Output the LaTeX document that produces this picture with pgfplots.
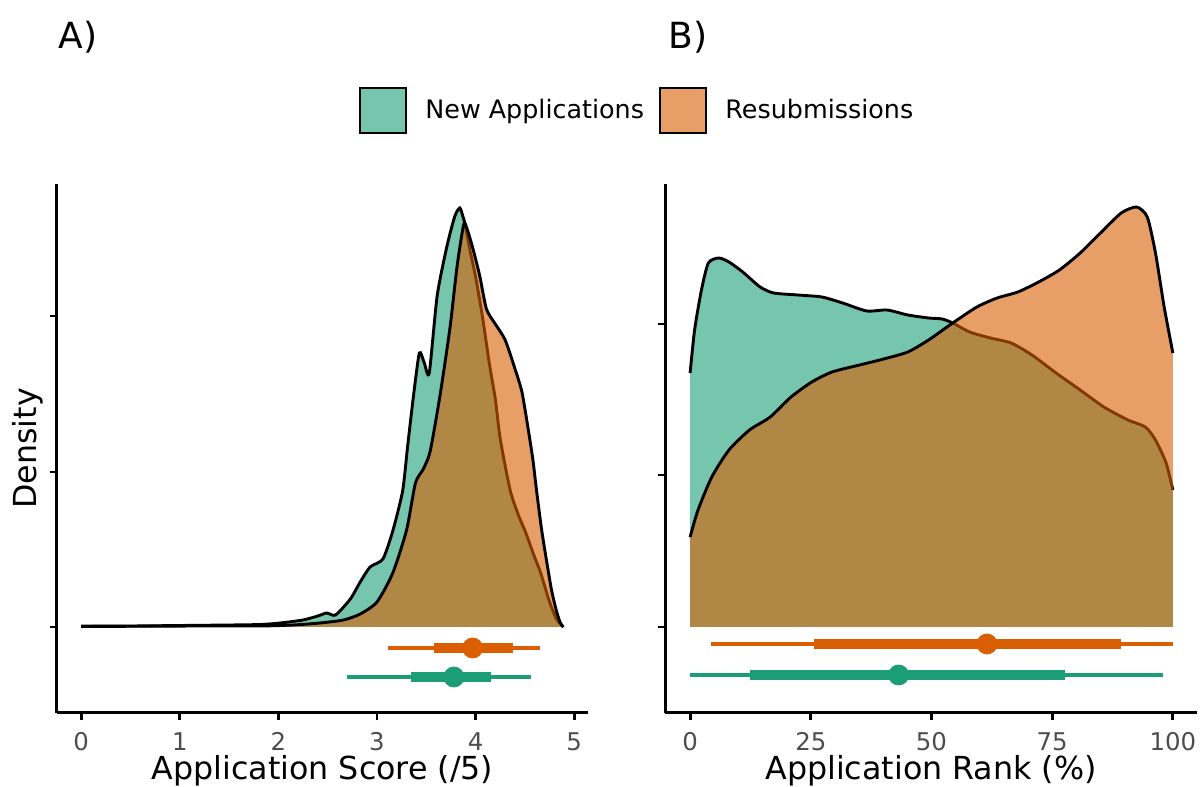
\documentclass[border=0pt]{standalone}
\usepackage{pgfplots}
\usepackage{pgfplotstable}
\pgfplotsset{compat=1.18}
\usepackage{fontspec}
\setmainfont{DejaVu Sans}

\definecolor{dgreen}{HTML}{1B9E77}
\definecolor{dorange}{HTML}{D95F02}
\definecolor{ticklab}{HTML}{4D4D4D}

% density heights are in px above the slab baseline
\pgfplotstableread{
x y
0.00 1
0.50 1
1.01 1.5
1.51 2
1.82 2.5
2.02 4
2.25 7
2.40 11
2.49 14
2.58 12
2.73 28
2.83 45
2.93 60
3.06 68
3.16 96
3.26 136
3.31 180
3.37 231
3.43 274
3.48 264
3.53 254
3.61 331
3.71 381
3.79 411
3.84 419
3.87 411
3.89 404
3.94 378
4.00 350
4.07 310
4.14 263
4.20 228
4.25 188
4.35 137
4.43 113
4.51 94
4.59 72
4.66 54
4.75 25
4.82 8
4.89 0
}\scoreNew

\pgfplotstableread{
x y
0.00 0.5
1.21 1
1.82 1
2.15 2
2.42 4
2.66 7
2.83 13
3.00 25
3.16 54
3.30 97
3.39 144
3.47 158
3.54 176
3.64 232
3.74 299
3.81 359
3.86 392
3.89 404
3.96 383
4.04 352
4.11 318
4.20 303
4.30 287
4.40 258
4.47 235
4.53 200
4.58 168
4.62 135
4.67 97
4.72 66
4.77 37
4.82 16
4.86 4
4.89 0
}\scoreResub

\pgfplotstableread{
x y
0 254
0.93 297
2.35 337
3.78 364
5.92 369
8.05 365
10.9 355
14.5 340
17.3 334
22.3 332
27.3 330
31.6 324
36.6 316
40.8 317
45.1 312
49.4 309
52.2 308
54.4 304
57.9 295
62.2 289
66.5 284
70.8 272
75.8 254
80.8 237
85.7 220
90.7 207
94.3 200
96.4 187
98.6 164
100 137
}\rankNew

\pgfplotstableread{
x y
0 90
1.64 117
4.49 150
8.05 177
12.3 197
16.6 210
20.9 230
25.2 245
29.4 255
35.1 262
40.1 268
45.1 275
49.4 287
54.4 304
59.4 320
63.6 329
67.9 335
72.2 345
76.5 357
80.8 374
85.0 394
89.3 414
92.5 420
94.7 410
96.4 374
98.2 320
100 274
}\rankResub

\pgfplotsset{
  panel/.style={
    scale only axis,
    height=264.5pt,
    ymin=-86, ymax=443,
    axis x line*=bottom, axis y line*=left,
    axis line style={black, line width=1.5pt},
    tick align=outside, major tick length=3.7pt,
    tick style={black, line width=1.4pt},
    yticklabels={},
    xticklabel style={font=\fontsize{12.2}{14}\selectfont, text=ticklab, anchor=base, yshift=-15pt},
    /pgf/number format/assume math mode=true,
    label style={font=\fontsize{15.85}{19}\selectfont},
    xlabel style={at={(rel axis cs:0.5,-0.125)}, anchor=base},
  },
  slab/.style={draw=none, fill opacity=0.6, smooth, tension=0.4},
  outline/.style={black, line width=1.45pt, smooth, tension=0.4},
  thinint/.style={line width=2pt},
  thickint/.style={line width=4.6pt},
  dot/.style={only marks, mark=*, mark size=5pt},
}

\begin{document}
\begin{tikzpicture}
\useasboundingbox (0,0) rectangle (600pt,393.5pt);

% A) application score
\begin{axis}[panel,
  at={(28.5pt,37pt)}, anchor=south west,
  width=265.5pt,
  xmin=-0.245, xmax=5.14,
  xtick={0,1,2,3,4,5},
  ytick={0,155,311},
  xlabel={Application Score (/5)},
  ylabel={Density},
  ylabel style={at={(rel axis cs:-0.0377,0.5)}, anchor=base},
]
\addplot[slab, fill=dgreen] table {\scoreNew} \closedcycle;
\addplot[outline] table {\scoreNew};
\addplot[slab, fill=dorange] table {\scoreResub} \closedcycle;
\addplot[outline] table {\scoreResub};

\addplot[dorange, thinint] coordinates {(3.11,-21) (4.65,-21)};
\addplot[dorange, thickint] coordinates {(3.58,-21) (4.38,-21)};
\addplot[dorange, dot] coordinates {(3.97,-21)};
\addplot[dgreen, thinint] coordinates {(2.70,-50) (4.56,-50)};
\addplot[dgreen, thickint] coordinates {(3.35,-50) (4.16,-50)};
\addplot[dgreen, dot] coordinates {(3.78,-50)};
\end{axis}

% B) application rank
\begin{axis}[panel,
  at={(332.5pt,37pt)}, anchor=south west,
  width=266pt,
  xmin=-5.2, xmax=105,
  xtick={0,25,50,75,100},
  ytick={0,152,303},
  xlabel={Application Rank (\%)},
]
\addplot[slab, fill=dgreen] table {\rankNew} \closedcycle;
\addplot[outline] table {\rankNew};
\addplot[slab, fill=dorange] table {\rankResub} \closedcycle;
\addplot[outline] table {\rankResub};

\addplot[dorange, thinint] coordinates {(4.3,-17) (100,-17)};
\addplot[dorange, thickint] coordinates {(25.7,-17) (89.3,-17)};
\addplot[dorange, dot] coordinates {(61.5,-17)};
\addplot[dgreen, thinint] coordinates {(0,-48) (97.9,-48)};
\addplot[dgreen, thickint] coordinates {(12.5,-48) (77.7,-48)};
\addplot[dgreen, dot] coordinates {(43.2,-48)};
\end{axis}

% panel tags
\node[anchor=base west, inner sep=0pt, font=\fontsize{18}{22}\selectfont] at (29pt,369pt) {A)};
\node[anchor=base west, inner sep=0pt, font=\fontsize{18}{22}\selectfont] at (334pt,369pt) {B)};

% legend
\node[draw=black, line width=1.2pt, fill=dgreen, fill opacity=0.6, draw opacity=1,
  minimum width=23pt, minimum height=22.5pt, inner sep=0pt] at (191.5pt,338.25pt) {};
\node[anchor=base west, inner sep=0pt, font=\fontsize{12.7}{15}\selectfont] at (212.5pt,334pt) {New Applications};
\node[draw=black, line width=1.2pt, fill=dorange, fill opacity=0.6, draw opacity=1,
  minimum width=23pt, minimum height=22.5pt, inner sep=0pt] at (341.5pt,338.25pt) {};
\node[anchor=base west, inner sep=0pt, font=\fontsize{12.7}{15}\selectfont] at (362.5pt,334pt) {Resubmissions};
\end{tikzpicture}
\end{document}
